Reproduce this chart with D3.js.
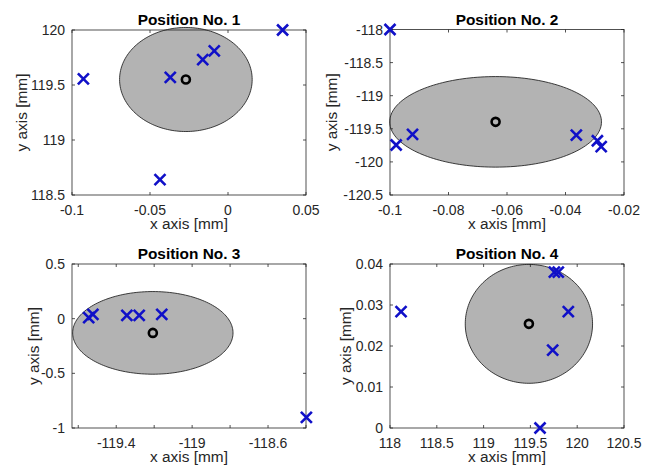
<!DOCTYPE html>
<html><head><meta charset="utf-8">
<script src="https://cdn.jsdelivr.net/npm/d3@7"></script>
<style>
html,body{margin:0;padding:0;background:#fff;}
svg{display:block;font-family:"Liberation Sans",Arial,Helvetica,sans-serif;}
</style></head>
<body>
<svg id="chart" width="655" height="473"></svg>
<script>
// ---------- data ----------
const titles = ["Position No. 1", "Position No. 2", "Position No. 3", "Position No. 4"];
const xLabel = "x axis [mm]";
const yLabel = "y axis [mm]";

const pos1X = [-0.0927, -0.037, -0.0162, -0.0088, 0.035, -0.0436];
const pos1Y = [119.555, 119.57, 119.73, 119.81, 120.0, 118.64];
const pos1Mean = [-0.0270, 119.55];
const pos1Spread = [0.0425, 0.473];
const pos1XDomain = [-0.1, 0.05];
const pos1YDomain = [118.5, 120];
const pos1XTicks = [-0.1, -0.05, 0, 0.05];
const pos1XTickLabels = ["-0.1", "-0.05", "0", "0.05"];
const pos1YTicks = [118.5, 119, 119.5, 120];
const pos1YTickLabels = ["118.5", "119", "119.5", "120"];

const pos2X = [-0.1, -0.0979, -0.0923, -0.0363, -0.0291, -0.0278];
const pos2Y = [-118.0, -119.745, -119.585, -119.595, -119.68, -119.77];
const pos2Mean = [-0.0639, -119.395];
const pos2Spread = [0.0362, 0.684];
const pos2XDomain = [-0.1, -0.02];
const pos2YDomain = [-120.5, -118];
const pos2XTicks = [-0.1, -0.08, -0.06, -0.04, -0.02];
const pos2XTickLabels = ["-0.1", "-0.08", "-0.06", "-0.04", "-0.02"];
const pos2YTicks = [-120.5, -120, -119.5, -119, -118.5, -118];
const pos2YTickLabels = ["-120.5", "-120", "-119.5", "-119", "-118.5", "-118"];

const pos3X = [-119.545, -119.523, -119.344, -119.279, -119.16, -118.398];
const pos3Y = [0.009, 0.039, 0.030, 0.030, 0.039, -0.903];
const pos3Mean = [-119.207, -0.13];
const pos3Spread = [0.4225, 0.378];
const pos3XDomain = [-119.633, -118.4];
const pos3YDomain = [-1, 0.5];
const pos3XTicks = [-119.6, -119.4, -119.2, -119.0, -118.8, -118.6, -118.4];
const pos3XTickLabels = ["", "-119.4", "", "-119", "", "-118.6", ""];
const pos3YTicks = [-1, -0.5, 0, 0.5];
const pos3YTickLabels = ["-1", "-0.5", "0", "0.5"];

const pos4X = [118.118, 119.756, 119.798, 119.905, 119.738, 119.603];
const pos4Y = [0.0284, 0.0380, 0.0380, 0.0284, 0.0190, 0.0];
const pos4Mean = [119.484, 0.0254];
const pos4Spread = [0.68, 0.0145];
const pos4XDomain = [118, 120.5];
const pos4YDomain = [0, 0.04];
const pos4XTicks = [118, 118.5, 119, 119.5, 120, 120.5];
const pos4XTickLabels = ["118", "118.5", "119", "119.5", "120", "120.5"];
const pos4YTicks = [0, 0.01, 0.02, 0.03, 0.04];
const pos4YTickLabels = ["0", "0.01", "0.02", "0.03", "0.04"];

// ---------- layout ----------
const panels = [
  {x: pos1X, y: pos1Y, mean: pos1Mean, spread: pos1Spread, xd: pos1XDomain, yd: pos1YDomain,
   xt: pos1XTicks, xtl: pos1XTickLabels, yt: pos1YTicks, ytl: pos1YTickLabels,
   left: 72, top: 30, w: 234, h: 165, ylabOff: 45},
  {x: pos2X, y: pos2Y, mean: pos2Mean, spread: pos2Spread, xd: pos2XDomain, yd: pos2YDomain,
   xt: pos2XTicks, xtl: pos2XTickLabels, yt: pos2YTicks, ytl: pos2YTickLabels,
   left: 390, top: 29.5, w: 234, h: 165.5, ylabOff: 53},
  {x: pos3X, y: pos3Y, mean: pos3Mean, spread: pos3Spread, xd: pos3XDomain, yd: pos3YDomain,
   xt: pos3XTicks, xtl: pos3XTickLabels, yt: pos3YTicks, ytl: pos3YTickLabels,
   left: 72, top: 264, w: 234, h: 164, ylabOff: 33},
  {x: pos4X, y: pos4Y, mean: pos4Mean, spread: pos4Spread, xd: pos4XDomain, yd: pos4YDomain,
   xt: pos4XTicks, xtl: pos4XTickLabels, yt: pos4YTicks, ytl: pos4YTickLabels,
   left: 390, top: 264, w: 234, h: 164, ylabOff: 39}
];

const svg = d3.select("#chart");
const axisColor = "#262626";
const tickLen = 3;

panels.forEach((p, i) => {
  const g = svg.append("g");
  const xs = d3.scaleLinear().domain(p.xd).range([p.left, p.left + p.w]);
  const ys = d3.scaleLinear().domain(p.yd).range([p.top + p.h, p.top]);

  // ellipse
  const ell = d3.range(0, 361, 2).map(a => {
    const t = a * Math.PI / 180;
    return [xs(p.mean[0] + p.spread[0] * Math.cos(t)), ys(p.mean[1] + p.spread[1] * Math.sin(t))];
  });
  g.append("path")
    .attr("d", d3.line()(ell) + "Z")
    .attr("fill", "#b3b3b3")
    .attr("stroke", "#111")
    .attr("stroke-width", 0.8);

  // box
  g.append("rect")
    .attr("x", p.left).attr("y", p.top).attr("width", p.w).attr("height", p.h)
    .attr("fill", "none").attr("stroke", axisColor).attr("stroke-width", 0.8);

  // ticks (inward, mirrored)
  p.xt.forEach((v, k) => {
    const px = xs(v);
    g.append("line").attr("x1", px).attr("x2", px).attr("y1", p.top + p.h).attr("y2", p.top + p.h - tickLen)
      .attr("stroke", axisColor).attr("stroke-width", 0.8);
    g.append("line").attr("x1", px).attr("x2", px).attr("y1", p.top).attr("y2", p.top + tickLen)
      .attr("stroke", axisColor).attr("stroke-width", 0.8);
    if (p.xtl[k] !== "") {
      g.append("text").attr("x", px).attr("y", p.top + p.h + 20)
        .attr("text-anchor", "middle").attr("font-size", 14).attr("fill", axisColor)
        .text(p.xtl[k]);
    }
  });
  p.yt.forEach((v, k) => {
    const py = ys(v);
    g.append("line").attr("x1", p.left).attr("x2", p.left + tickLen).attr("y1", py).attr("y2", py)
      .attr("stroke", axisColor).attr("stroke-width", 0.8);
    g.append("line").attr("x1", p.left + p.w).attr("x2", p.left + p.w - tickLen).attr("y1", py).attr("y2", py)
      .attr("stroke", axisColor).attr("stroke-width", 0.8);
    if (p.ytl[k] !== "") {
      g.append("text").attr("x", p.left - 7).attr("y", py).attr("dy", "0.36em")
        .attr("text-anchor", "end").attr("font-size", 14).attr("fill", axisColor)
        .text(p.ytl[k]);
    }
  });

  // labels
  g.append("text").attr("x", p.left + p.w / 2).attr("y", p.top + p.h + 34)
    .attr("text-anchor", "middle").attr("font-size", 15.4).attr("fill", axisColor).text(xLabel);
  const ly = p.top + p.h / 2, lx = p.left - p.ylabOff;
  g.append("text").attr("transform", `translate(${lx},${ly}) rotate(-90)`)
    .attr("text-anchor", "middle").attr("font-size", 15.4).attr("fill", axisColor).text(yLabel);
  g.append("text").attr("x", p.left + p.w / 2).attr("y", p.top - 5)
    .attr("text-anchor", "middle").attr("font-size", 15.4).attr("font-weight", "bold")
    .attr("fill", "#000").text(titles[i]);

  // markers x
  const s = 5.5;
  p.x.forEach((v, k) => {
    const cx = xs(v), cy = ys(p.y[k]);
    g.append("path")
      .attr("d", `M${cx - s},${cy - s}L${cx + s},${cy + s}M${cx - s},${cy + s}L${cx + s},${cy - s}`)
      .attr("stroke", "#1010c8").attr("stroke-width", 2.6).attr("fill", "none");
  });

  // mean circle
  g.append("circle").attr("cx", xs(p.mean[0])).attr("cy", ys(p.mean[1])).attr("r", 4)
    .attr("fill", "none").attr("stroke", "#000").attr("stroke-width", 2.6);
});
</script>
</body></html>
